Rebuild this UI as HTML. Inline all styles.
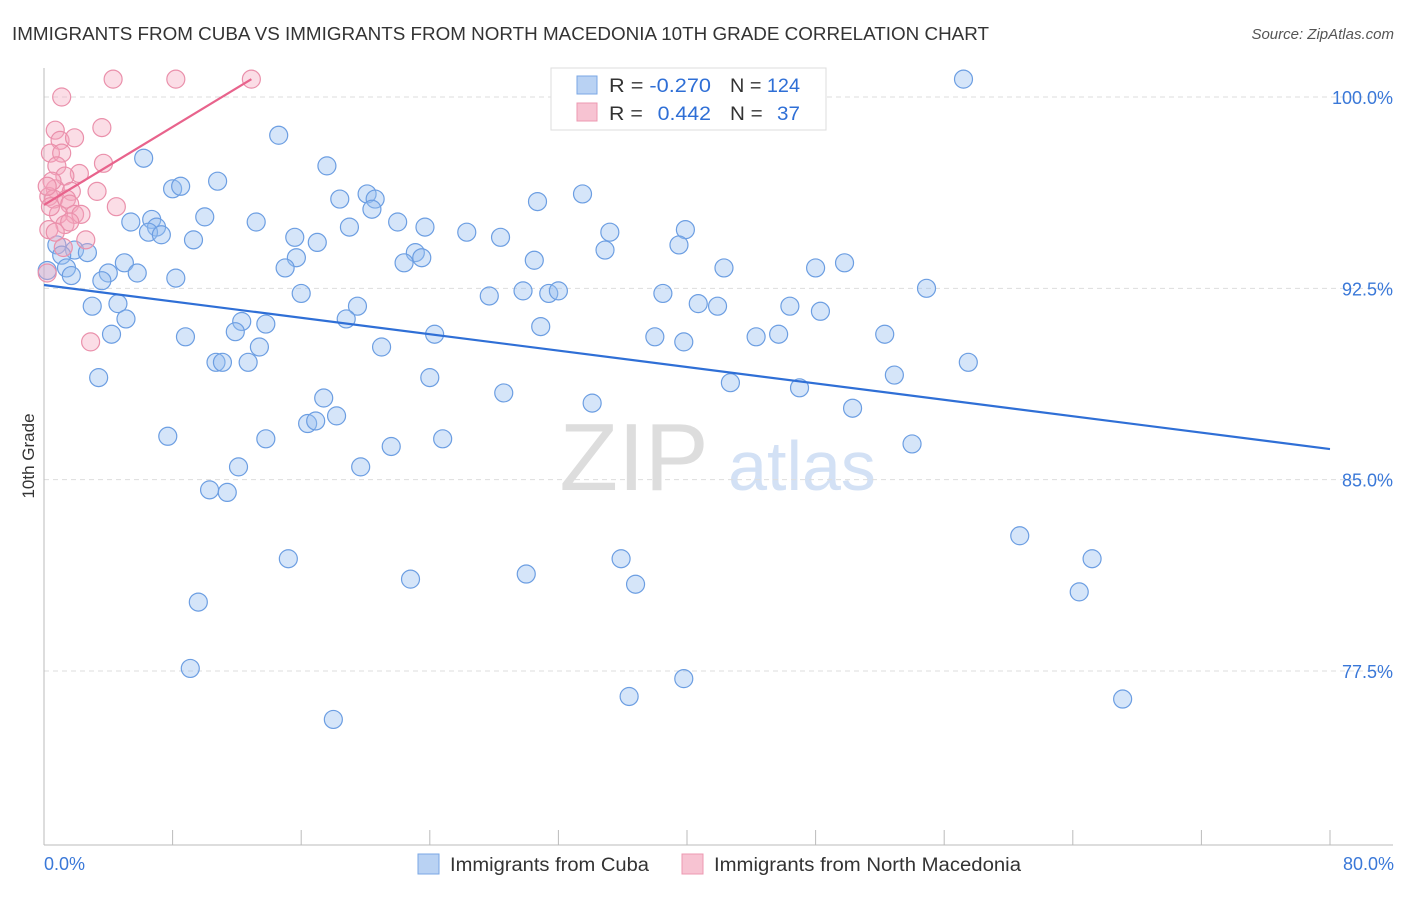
<!DOCTYPE html>
<html><head><meta charset="utf-8"><style>
body{margin:0;background:#fff;font-family:"Liberation Sans",sans-serif;}
svg text{font-family:"Liberation Sans",sans-serif;}
</style></head><body>
<svg id="chart" width="1406" height="892">
<text x="12" y="40" font-size="18" fill="#333" textLength="977" lengthAdjust="spacingAndGlyphs">IMMIGRANTS FROM CUBA VS IMMIGRANTS FROM NORTH MACEDONIA 10TH GRADE CORRELATION CHART</text>
<text x="1394" y="39" font-size="15" fill="#555" text-anchor="end" font-style="italic">Source: ZipAtlas.com</text>
<text transform="translate(34,456) rotate(-90)" font-size="17" fill="#333" text-anchor="middle">10th Grade</text>
<g>
<text x="634" y="490" font-size="96" fill="#ddd" font-family="Liberation Serif" text-anchor="middle">ZIP</text>
<text x="802" y="490" font-size="70" fill="#d3e1f5" text-anchor="middle">atlas</text>
</g>
<g id="grid"></g>
<g id="marks"></g>
<g id="lines"></g>
<g>
<rect x="551" y="68" width="275" height="62" fill="#fff" stroke="#ddd"/>
<rect x="577" y="76" width="20" height="18" fill="#b9d2f3" stroke="#7aa7e4"/>
<rect x="577" y="103" width="20" height="18" fill="#f7c3d2" stroke="#ec98b1"/>
<text x="609" y="92" font-size="19" fill="#333" textLength="102" lengthAdjust="spacingAndGlyphs">R = <tspan fill="#2f6fd6">-0.270</tspan></text>
<text x="730" y="92" font-size="19" fill="#333" textLength="70" lengthAdjust="spacingAndGlyphs">N = <tspan fill="#2f6fd6">124</tspan></text>
<text x="609" y="120" font-size="19" fill="#333" textLength="102" lengthAdjust="spacingAndGlyphs">R = <tspan fill="#2f6fd6" dx="8">0.442</tspan></text>
<text x="730" y="120" font-size="19" fill="#333" textLength="70" lengthAdjust="spacingAndGlyphs">N = <tspan fill="#2f6fd6" dx="8">37</tspan></text>
</g>
<g>
<rect x="418" y="854" width="21" height="20" fill="#b9d2f3" stroke="#7aa7e4"/>
<text x="450" y="871" font-size="19" fill="#333" textLength="199" lengthAdjust="spacingAndGlyphs">Immigrants from Cuba</text>
<rect x="682" y="854" width="21" height="20" fill="#f7c3d2" stroke="#ec98b1"/>
<text x="714" y="871" font-size="19" fill="#333" textLength="307" lengthAdjust="spacingAndGlyphs">Immigrants from North Macedonia</text>
</g>
<text x="44" y="870" font-size="18" fill="#3a78d8">0.0%</text>
<text x="1394" y="870" font-size="18" fill="#3a78d8" text-anchor="end">80.0%</text>
</svg>
<script>
const yTicks=[100,92.5,85,77.5];
const yTickLabels=["100.0%","92.5%","85.0%","77.5%"];
const xTicks=[0,8,16,24,32,40,48,56,64,72,80];
const cubaX=[14.6,6.2,17.6,10.8,8.0,8.5,20.1,33.5,30.7,20.6,20.4,18.4,10.0,5.4,6.7,7.0,6.5,7.3,13.2,19.0,22.0,23.7,26.3,28.4,35.2,39.9,15.6,17.0,9.3,39.5,34.9,0.8,1.9,2.7,1.1,23.1,23.5,22.4,15.7,15.0,5.0,4.0,5.8,1.4,1.7,0.2,3.6,8.2,30.5,42.3,48.0,49.8,54.9,27.7,29.8,31.4,32.0,38.5,40.7,41.9,46.4,48.3,16.0,19.5,3.0,4.6,5.1,4.2,12.3,13.8,11.9,18.8,8.8,24.3,30.9,38.0,44.3,45.7,52.3,13.4,21.0,39.8,10.7,11.1,12.7,3.4,57.5,24.0,42.7,47.0,52.9,28.6,17.4,34.1,50.3,18.2,16.4,16.9,7.7,13.8,21.6,24.8,54.0,19.7,12.1,10.3,11.4,60.7,65.2,15.2,35.9,22.8,30.0,36.8,64.4,9.6,9.1,39.8,36.4,67.1,18.0,57.2];
const cubaY=[98.5,97.6,97.3,96.7,96.4,96.5,96.2,96.2,95.9,96.0,95.6,96.0,95.3,95.1,95.2,94.9,94.7,94.6,95.1,94.9,95.1,94.9,94.7,94.5,94.7,94.8,94.5,94.3,94.4,94.2,94.0,94.2,94.0,93.9,93.8,93.9,93.7,93.5,93.7,93.3,93.5,93.1,93.1,93.3,93.0,93.2,92.8,92.9,93.6,93.3,93.3,93.5,92.5,92.2,92.4,92.3,92.4,92.3,91.9,91.8,91.8,91.6,92.3,91.8,91.8,91.9,91.3,90.7,91.2,91.1,90.8,91.3,90.6,90.7,91.0,90.6,90.6,90.7,90.7,90.2,90.2,90.4,89.6,89.6,89.6,89.0,89.6,89.0,88.8,88.6,89.1,88.4,88.2,88.0,87.8,87.5,87.2,87.3,86.7,86.6,86.3,86.6,86.4,85.5,85.5,84.6,84.5,82.8,81.9,81.9,81.9,81.1,81.3,80.9,80.6,80.2,77.6,77.2,76.5,76.4,75.6,100.7];
const macX=[4.3,8.2,12.9,1.1,3.6,0.7,1.0,1.9,0.4,1.1,3.7,0.8,2.2,1.3,0.7,3.3,1.7,0.3,0.6,1.4,4.5,1.6,1.9,2.3,0.9,1.3,1.6,0.3,0.7,2.6,2.9,0.2,1.2,0.5,0.2,0.4];
const macY=[100.7,100.7,100.7,100.0,98.8,98.7,98.3,98.4,97.8,97.8,97.4,97.3,97.0,96.9,96.4,96.3,96.3,96.1,96.0,96.0,95.7,95.8,95.4,95.4,95.4,95.0,95.1,94.8,94.7,94.4,90.4,93.1,94.1,96.7,96.5,95.7];
const cubaTrend=[92.63,86.2];   // y at x=0 and x=80
const macTrend=[95.77,100.7,12.9]; // y at x=0, y at end, end x

const NS="http://www.w3.org/2000/svg";
const X0=44,X1=1330,Y100=97,PXY=25.51;
const sx=v=>X0+(v/80)*(X1-X0);
const sy=v=>Y100+(100-v)*PXY;
function mk(tag,attrs,parent){const e=document.createElementNS(NS,tag);for(const k in attrs)e.setAttribute(k,attrs[k]);parent.appendChild(e);return e;}
const grid=document.getElementById('grid'),marks=document.getElementById('marks'),lines=document.getElementById('lines');
yTicks.forEach((t,i)=>{
 const l=mk('line',{x1:44,x2:1393,y1:sy(t),y2:sy(t),stroke:'#ddd','stroke-dasharray':'5,4'},grid);
 
 
 const tx=mk('text',{x:1393,y:sy(t)+7,'font-size':18,fill:'#3a78d8','text-anchor':'end'},grid);
 tx.textContent=yTickLabels[i];
 
 
});
const ax=mk('line',{x1:44,x2:44,y1:68,y2:845,stroke:'#bbb'},grid);


const bx=mk('line',{x1:44,x2:1393,y1:845,y2:845,stroke:'#bbb'},grid);


xTicks.forEach(t=>{
 const l=mk('line',{x1:sx(t),x2:sx(t),y1:830,y2:845,stroke:'#bbb'},grid);
 
 
});
cubaX.forEach((v,i)=>{
 const c=mk('circle',{cx:sx(v),cy:sy(cubaY[i]),r:9,fill:'rgba(150,190,240,0.4)',stroke:'#6c9ee2','stroke-width':1.2},marks);
 
 
});
macX.forEach((v,i)=>{
 const c=mk('circle',{cx:sx(v),cy:sy(macY[i]),r:9,fill:'rgba(245,165,190,0.38)',stroke:'#ea90ab','stroke-width':1.2},marks);
 
 
});
const bl=mk('line',{x1:sx(0),y1:sy(cubaTrend[0]),x2:sx(80),y2:sy(cubaTrend[1]),stroke:'#2f6fd6','stroke-width':2.2},lines);


const pl=mk('line',{x1:sx(0),y1:sy(macTrend[0]),x2:sx(macTrend[2]),y2:sy(macTrend[1]),stroke:'#e8638c','stroke-width':2.2},lines);


</script>
</body></html>
